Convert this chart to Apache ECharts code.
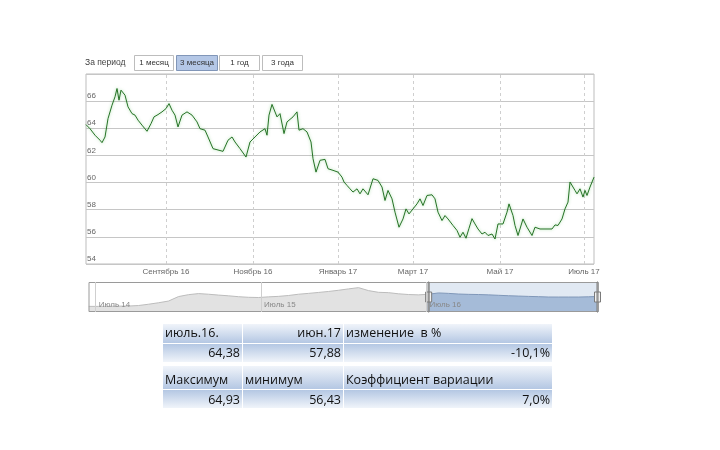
<!DOCTYPE html>
<html><head><meta charset="utf-8">
<script src="https://cdn.jsdelivr.net/npm/echarts@6/dist/echarts.min.js"></script>
<style>html,body{margin:0;padding:0;background:#fff}#c{width:720px;height:450px}</style>
</head><body><div id="c"></div>
<script>
// ---- data ----
const tradingDays = [0,2,4.5,7,8,9.5,11,13,14.5,15.5,16.5,17.5,19.5,21,23,24.5,26,28,30.5,32.5,34,36,38,40,41.5,43,44.5,46,48,50.5,53,55.5,57,59.5,61,62,63.5,65.5,68.5,71,73,74.5,77,80,82,84.5,87,89.5,90.5,91.5,93,95.5,97,99,100.5,103.5,105.5,106.5,108.5,110.5,112.5,113.5,115,117,119.5,121,123.5,126,128,129,130.5,132,133.5,135.5,137,138.5,141,143.5,146,148,149.5,151,153,154.5,156.5,158.5,160,161.5,163.5,165.5,167,168.5,170.5,173,174.5,176,178,179.5,181,183.5,185.5,187,188.5,190,191.5,193,194.5,196,198,199.5,201,203,204.5,206,208.5,210.5,211.5,213.5,214.5,216,218.5,220.5,223,224.5,227,229.5,233,234.5,236,238,239.5,241,242,243,244.5,245.5,247,248.5,249.5,250.5,252,254];
const rates = [64.27,63.97,63.49,63.12,62.94,63.36,64.71,65.70,66.32,66.93,66.07,66.81,66.44,65.58,65.08,64.97,64.60,64.23,63.78,64.34,64.84,65.01,65.21,65.45,65.82,65.33,64.97,64.10,64.97,65.21,64.97,64.47,63.97,63.86,63.36,63.24,62.50,62.42,62.30,63.12,63.36,62.99,62.50,61.88,62.99,63.36,63.73,63.97,63.49,64.97,65.76,64.84,65.08,63.61,64.47,64.84,65.21,63.86,63.97,63.73,62.99,61.76,60.77,61.64,61.71,61.02,60.90,60.77,60.40,60.04,59.79,59.54,59.30,59.54,59.17,59.54,59.10,60.28,60.16,59.67,58.68,59.42,58.80,57.82,56.71,57.32,58.06,57.69,58.06,58.43,58.80,58.31,59.05,59.10,58.80,57.82,57.20,57.57,57.32,56.84,56.47,55.97,56.34,55.90,56.63,57.34,56.95,56.58,56.21,56.34,56.10,56.21,55.84,56.95,56.95,57.82,58.43,57.57,56.84,56.10,57.32,56.71,56.10,56.71,56.58,56.58,56.58,56.88,56.84,57.32,58.06,58.56,60.04,60.16,59.42,59.17,59.54,58.93,59.42,59.05,59.67,60.40];
const monthTickPos = [40, 83.5, 126, 163.5, 207, 249];
const monthTickLabels = ['Сентябрь 16','Ноябрь 16','Январь 17','Март 17','Май 17','Июль 17'];
const yMin = 54, yMax = 68, yStep = 2;

const navValues = [35,35,35.2,35.5,35.8,37,40,43.5,47.5,58,62.5,65,63.5,61.5,59.8,57.7,56.3,55.8,57.3,58.5,60.5,63.5,65.5,67.7,70,72.8,76,79,72,68,67.2,64.5,62.8,62,63.5,66.5,65.5,64,63.2,62.8,62,61,60,59.2,58.4,57.8,57,56.9,56.9,56.9,57.5,58.3];
const navTickPos = [0, 12, 24];
const navTickLabels = ['Июль 14','Июль 15','Июль 16'];
const navWindow = [66.5, 100];

const periodLabel = 'За период';
const periodButtons = ['1 месяц','3 месяца','1 год','3 года'];
const activeButton = 1;

const tableRows = [
  ['июль.16.', 'июн.17', 'изменение  в %'],
  ['64,38', '57,88', '-10,1%'],
  ['Максимум', 'минимум', 'Коэффициент вариации'],
  ['64,93', '56,43', '7,0%']
];

// ---- layout / style ----
const chart = echarts.init(document.getElementById('c'), null, {renderer:'canvas'});
const smallFont = 'Liberation Sans, Arial, sans-serif';
const tableFont = 'Open Sans, Noto Sans, sans-serif';

const graphics = [];
graphics.push({type:'text', left:85, top:58, style:{text:periodLabel, font:'8.5px ' + smallFont, fill:'#444'}});
const btnX = [134, 176, 219, 262], btnW = [39, 41, 40, 40];
periodButtons.forEach((b, i) => {
  const active = i === activeButton;
  graphics.push({type:'rect', shape:{x:btnX[i]+0.5, y:55.5, width:btnW[i], height:15},
    style:{fill: active ? '#b4c7e6' : '#fff', stroke: active ? '#8196b8' : '#bdbdbd', lineWidth:1}});
  graphics.push({type:'text', x:btnX[i] + btnW[i]/2 + 0.5, y:63,
    style:{text:b, font:'8px ' + smallFont, fill:'#333', align:'center', verticalAlign:'middle'}});
});

const colX = [163, 243, 344], colW = [79, 100, 208];
const rowY = [324, 344, 366, 390], rowH = [19, 18, 23, 18];
const rowTextY = [333, 353, 380.5, 400];
const rowAlign = [['left','right','left'],['right','right','right'],['left','left','left'],['right','right','right']];
const blueC = '#b4c7e3', lightC = '#f0f4fa';
tableRows.forEach((row, r) => {
  const down = r % 2 === 0;
  row.forEach((txt, c) => {
    graphics.push({type:'rect', shape:{x:colX[c], y:rowY[r], width:colW[c], height:rowH[r]},
      style:{fill:{type:'linear', x:0, y:0, x2:0, y2:1, colorStops: down ?
        [{offset:0, color:lightC},{offset:1, color:blueC}] :
        [{offset:0, color:blueC},{offset:1, color:lightC}]}}});
    const al = rowAlign[r][c];
    graphics.push({type:'text', x: al === 'left' ? colX[c] + 2 : colX[c] + colW[c] - 2, y: rowTextY[r],
      style:{text:txt, font:'12.5px ' + tableFont, fill:'#111', align:al, verticalAlign:'middle'}});
  });
});

const option = {
  backgroundColor:'#fff',
  animation:false,
  graphic: graphics,
  grid:[
    {left:86, top:74, width:508, height:190, show:true, borderColor:'#bdbdbd', borderWidth:1, backgroundColor:'#fff'},
    {left:86, top:282, width:510, height:30},
    {left:86, top:282, width:510, height:30}
  ],
  xAxis:[
    {gridIndex:0, type:'value', min:0, max:254,
      axisLine:{show:false}, splitLine:{show:false},
      axisTick:{show:true, inside:true, length:190, customValues:monthTickPos, lineStyle:{color:'#cfcfcf', type:[3,3]}},
      axisLabel:{customValues:monthTickPos, formatter:v => monthTickLabels[monthTickPos.indexOf(v)],
        fontSize:8, fontFamily:smallFont, color:'#666', margin:4}},
    {gridIndex:1, type:'value', min:-0.7, max:36.3, z:10,
      axisLine:{show:false}, splitLine:{show:false},
      axisTick:{show:true, inside:true, length:30, customValues:navTickPos, lineStyle:{color:'#cfcfcf'}},
      axisLabel:{inside:true, customValues:navTickPos, formatter:v => navTickLabels[navTickPos.indexOf(v)],
        align:'left', verticalAlign:'bottom', margin:3, padding:[0,0,0,3], fontSize:8, fontFamily:smallFont, color:'#888'}},
    {gridIndex:2, type:'category', show:false, boundaryGap:false, data: navValues.map((v, i) => i)}
  ],
  yAxis:[
    {gridIndex:0, type:'value', min:yMin, max:yMax, interval:yStep,
      axisLine:{show:false}, axisTick:{show:false},
      splitLine:{lineStyle:{color:'#c6c6c6'}},
      axisLabel:{inside:true, showMaxLabel:false, align:'left', verticalAlign:'bottom', margin:1,
        padding:[0,0,1,0], fontSize:8, fontFamily:smallFont, color:'#666'}},
    {gridIndex:1, type:'value', min:0, max:1, show:false},
    {gridIndex:2, type:'value', scale:true, show:false}
  ],
  dataZoom:[{
    type:'slider', xAxisIndex:2, start:navWindow[0], end:navWindow[1],
    left:86, right:124, top:282, height:30,
    showDetail:false, brushSelect:false, moveHandleSize:0, zoomLock:true,
    borderColor:'#9a9a9a', backgroundColor:'rgba(255,255,255,0)',
    fillerColor:'rgba(170,192,222,0.35)',
    dataBackground:{lineStyle:{color:'#bcbcbc', width:1, opacity:1}, areaStyle:{color:'#e2e2e2', opacity:1}},
    selectedDataBackground:{lineStyle:{color:'#6a82a6', width:1, opacity:1}, areaStyle:{color:'#a3b8d6', opacity:1}},
    handleIcon:'path://M0,10 h6 v10 h-6 z M2.5,0 h1 v30 h-1 z',
    handleSize:'100%',
    handleStyle:{color:'#f2f2f2', borderColor:'#7a7a7a', borderWidth:1}
  }],
  series:[
    {type:'line', xAxisIndex:0, yAxisIndex:0, showSymbol:false, silent:true,
      data: tradingDays.map((d, i) => [d, rates[i]]),
      lineStyle:{color:'#277327', width:1, shadowColor:'rgba(60,180,60,0.5)', shadowBlur:3}},
    {type:'line', xAxisIndex:2, yAxisIndex:2, showSymbol:false, silent:true,
      data: navValues, lineStyle:{opacity:0}}
  ]
};
chart.setOption(option);
</script></body></html>
